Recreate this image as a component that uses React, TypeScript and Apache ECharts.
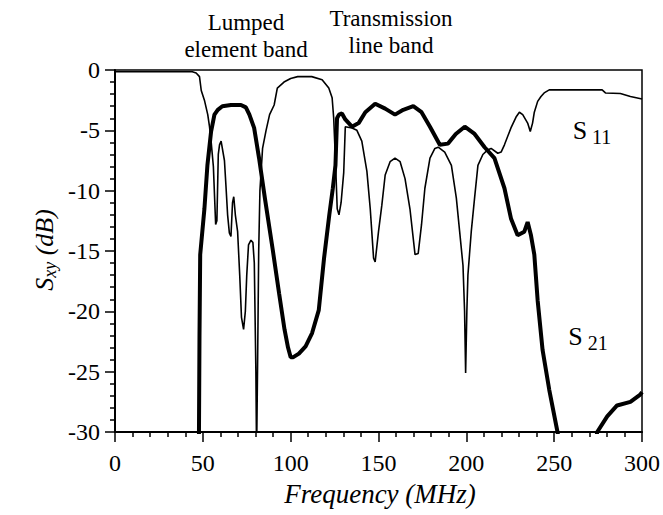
import React, { useEffect, useRef } from "react";
import * as echarts from "echarts";

// S11 (thin curve): [frequency MHz, dB]
const s11Points: [number, number][] = [
  [0, -0.15], [44, -0.15], [46.2, -0.25], [48.1, -0.55], [49.1, -1.7], [50.9, -2.5], [52.8, -3.7],
  [53.8, -4.7], [54.7, -5.9], [56, -8], [57.3, -12.8], [58, -12.5], [58.8, -7], [59.5, -6.2],
  [60.4, -5.9], [62.3, -7.5], [63.2, -9.7], [64.1, -12], [65.1, -13.5], [66, -13.8], [66.9, -11],
  [67.6, -10.5], [68.5, -12], [69.8, -13.4], [71, -17], [72, -20.5], [73.2, -21.5], [74.2, -20],
  [75, -17], [76, -14.5], [77.4, -14.1], [78.5, -14.3], [79.3, -16], [80.2, -25], [80.6, -32],
  [81.2, -24], [81.8, -15], [82.5, -10], [84, -6.5], [86, -5], [88, -3.7], [90.6, -2.9],
  [92.4, -1.5], [96.2, -1.0], [100, -0.7], [104, -0.55], [112, -0.55], [117.9, -0.8], [121.7, -1.5],
  [123.6, -2.3], [124.5, -4], [125.5, -7.5], [126.5, -11.5], [127.5, -12], [128.7, -11],
  [130.2, -8.5], [131.1, -4.7], [134.9, -4.8], [137.7, -5], [140.5, -5.9], [143.4, -8.4],
  [145.3, -11.5], [147.2, -15.6], [148.1, -15.9], [150, -13.4], [151.9, -11.2], [153.8, -8.7],
  [156.6, -7.6], [159.4, -7.3], [162.3, -7.6], [165.1, -9], [167.9, -11.5], [170.8, -15.3],
  [172.6, -15.2], [174.5, -12.8], [176.4, -9.8], [179.3, -7.3], [182.1, -6.5], [184, -6.4],
  [187.7, -6.8], [191.5, -7.9], [194.3, -10.6], [196.2, -13.4], [198.1, -16.2], [199, -20],
  [199.6, -25.1], [200.3, -20], [200.9, -17], [202.8, -13.4], [204.7, -10.6], [206.6, -7.9],
  [209.4, -7.0], [212.3, -6.6], [214.1, -6.5], [217.9, -6.9], [219.8, -6.8], [221.7, -6.2],
  [225.4, -4.8], [228.3, -3.9], [230.2, -3.5], [232.1, -3.7], [234.9, -4.4], [236.4, -5.1],
  [237.7, -4.4], [238.7, -3.5], [240.6, -2.6], [242.5, -2.2], [244.3, -1.9], [247.2, -1.65],
  [277.3, -1.65], [279.2, -1.9], [287.7, -1.95], [293.4, -2.2], [300, -2.4],
];

// S21 (thick curve): [frequency MHz, dB]
const s21Points: [number, number][] = [
  [46.8, -40], [47.8, -30], [48.1, -22], [48.5, -15.3], [50.9, -11.5], [52.6, -7.9], [54.7, -5.1],
  [56.6, -3.7], [58.5, -3.3], [61.1, -3.0], [66, -2.9], [71.7, -2.9], [74.5, -3.1], [76.5, -3.7],
  [79.2, -4.8], [82, -7.3], [85.3, -10.6], [89.8, -14.9], [93.4, -18.5], [96.5, -21.5],
  [98.5, -23], [100, -23.8], [101.5, -23.8], [104.7, -23.5], [108.5, -22.9], [112.2, -21.8],
  [116, -19.9], [119, -15.6], [122, -12], [124, -9.8], [125.5, -7.9], [126.4, -4.0],
  [127.5, -3.7], [129.2, -3.6], [131.1, -4.1], [134.9, -4.7], [138.7, -4.4], [142.5, -3.5],
  [148.1, -2.8], [153.8, -3.2], [159.4, -3.7], [164.1, -3.3], [169.8, -3.0], [174.5, -3.5],
  [179.3, -4.7], [184.9, -6.2], [189.6, -6.1], [194, -5.3], [199.1, -4.7], [204.7, -5.3],
  [210.4, -6.4], [216, -7.3], [221.7, -9.8], [225.4, -12.3], [229.2, -13.7], [233, -13.4],
  [234.9, -12.6], [236.8, -13.7], [238.7, -15.3], [240.6, -19.1], [243.4, -23.2], [247.2, -26.5],
  [251.9, -30], [255, -33], [271, -33], [274.5, -30], [280.2, -28.7], [285.8, -27.8],
  [293.4, -27.5], [299, -26.9], [300, -26.7],
];

const xTicks = { min: 0, max: 300, interval: 50 };
const yTicks = { min: -30, max: 0, interval: 5 };

const SERIF = "Liberation Serif";

const txt = (x: number, y: number, text: string, size: number, italic = false) => ({
  type: "text",
  x,
  y,
  style: {
    text,
    fontFamily: SERIF,
    fontSize: size,
    fontStyle: italic ? "italic" : "normal",
    fill: "#000",
    align: "center",
    verticalAlign: "middle",
  },
});

export default function App() {
  const ref = useRef<HTMLDivElement>(null);

  useEffect(() => {
    if (!ref.current) return;
    const chart = echarts.init(ref.current, undefined, { renderer: "svg" });
    const axisCommon = {
      axisLine: { show: true, onZero: false, lineStyle: { color: "#000", width: 2 } },
      axisTick: { show: true, inside: false, length: 10, lineStyle: { color: "#000", width: 1.5 } },
      minorTick: { show: true, splitNumber: 5, length: 5, lineStyle: { color: "#000", width: 1.5 } },
      splitLine: { show: false },
      axisLabel: { color: "#000", fontFamily: SERIF, fontSize: 24 },
    };
    chart.setOption({
      animation: false,
      backgroundColor: "#fff",
      grid: {
        left: 115, right: 18, top: 70, bottom: 83,
        show: true, borderColor: "#000", borderWidth: 1.5, backgroundColor: "transparent",
      },
      xAxis: {
        type: "value",
        ...xTicks,
        ...axisCommon,
        axisLabel: { ...axisCommon.axisLabel, margin: 19 },
      },
      yAxis: {
        type: "value",
        ...yTicks,
        ...axisCommon,
        axisLabel: { ...axisCommon.axisLabel, margin: 15 },
      },
      series: [
        {
          name: "S11",
          type: "line",
          data: s11Points,
          showSymbol: false,
          clip: true,
          lineStyle: { color: "#000", width: 1.6 },
        },
        {
          name: "S21",
          type: "line",
          data: s21Points,
          showSymbol: false,
          clip: true,
          lineStyle: { color: "#000", width: 4 },
        },
      ],
      graphic: [
        txt(246, 22, "Lumped", 23),
        txt(246, 49, "element band", 23),
        txt(391, 18, "Transmission", 23),
        txt(391, 45, "line band", 23),
        txt(380, 494, "Frequency (MHz)", 27, true),
        {
          type: "text", x: 44, y: 250, rotation: Math.PI / 2,
          style: {
            text: "{s|S}{sub|xy}{n| (dB)}",
            fill: "#000",
            fontFamily: SERIF,
            align: "center", verticalAlign: "middle",
            rich: {
              s: { fontFamily: SERIF, fontStyle: "italic", fontSize: 26, lineHeight: 30, fill: "#000" },
              sub: { fontFamily: SERIF, fontStyle: "italic", fontSize: 18, verticalAlign: "bottom", fill: "#000" },
              n: { fontFamily: SERIF, fontStyle: "italic", fontSize: 26, lineHeight: 30, fill: "#000" },
            },
          },
        },
        {
          type: "text", x: 592, y: 130,
          style: {
            text: "{s|S}{sub| 11}",
            fill: "#000",
            fontFamily: SERIF,
            align: "center", verticalAlign: "middle",
            rich: {
              s: { fontFamily: SERIF, fontSize: 26, lineHeight: 34, fill: "#000" },
              sub: { fontFamily: SERIF, fontSize: 20, verticalAlign: "bottom", fill: "#000" },
            },
          },
        },
        {
          type: "text", x: 588, y: 336,
          style: {
            text: "{s|S}{sub| 21}",
            fill: "#000",
            fontFamily: SERIF,
            align: "center", verticalAlign: "middle",
            rich: {
              s: { fontFamily: SERIF, fontSize: 26, lineHeight: 34, fill: "#000" },
              sub: { fontFamily: SERIF, fontSize: 20, verticalAlign: "bottom", fill: "#000" },
            },
          },
        },
      ],
    });
    return () => chart.dispose();
  }, []);

  return (
    <div
      ref={ref}
      style={{ position: "fixed", left: 0, top: 0, width: 663, height: 515 }}
    />
  );
}
